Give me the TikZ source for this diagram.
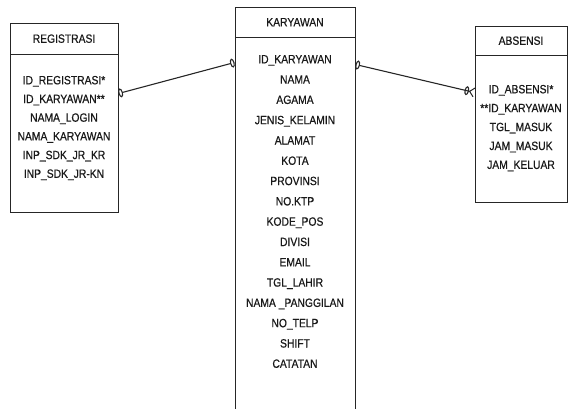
\documentclass[tikz,border=0pt]{standalone}
\usepackage{fontspec}
\setmainfont{Liberation Sans}
\newfontfamily\erdfont{Liberation Sans}[FakeStretch=0.86, RawFeature={embolden=0.6}]
\usetikzlibrary{arrows.meta}

\begin{document}
\begin{tikzpicture}[x=1pt,y=-1pt,
  box/.style={draw=black!85, line width=1pt, inner sep=0pt, font=\erdfont\fontsize{12}{13}\selectfont,
    text=black!90, text height=8.6pt, text depth=0pt},
  attr/.style={inner sep=0pt, font=\erdfont\fontsize{12}{13}\selectfont, text=black!90,
    text height=8.6pt, text depth=0pt},
  rel/.style={draw=black!85, line width=1.1pt},
  onebar/.tip={Circle[open,length=4.5pt,width=9pt,line width=1.1pt]},
  manybar/.tip={Circle[open,length=4.5pt,width=9pt,line width=1.1pt] Straight Barb[reversed,length=4.5pt,width=9pt,line width=1pt]}
]
\useasboundingbox (0,0) rectangle (569,408);

% REGISTRASI
\node[box, minimum width=108pt, minimum height=31pt] (reg) at (64,38.5) {REGISTRASI};
\node[box, minimum width=108pt, minimum height=158pt] (regbody) at (64,133) {};
\foreach \t [count=\i from 0] in {ID\_REGISTRASI*, ID\_KARYAWAN**, NAMA\_LOGIN,
    NAMA\_KARYAWAN, INP\_SDK\_JR\_KR, INP\_SDK\_JR-KN}
  \node[attr] (reg-\i) at (64,80+18.7*\i) {\t};

% KARYAWAN
\node[box, minimum width=120pt, minimum height=30pt] (kar) at (295,22) {KARYAWAN};
\node[box, minimum width=120pt, minimum height=375pt] (karbody) at (295,224.5) {};
\foreach \t [count=\i from 0] in {ID\_KARYAWAN, NAMA, AGAMA, JENIS\_KELAMIN, ALAMAT,
    KOTA, PROVINSI, NO.KTP, KODE\_POS, DIVISI, EMAIL, TGL\_LAHIR,
    NAMA \_PANGGILAN, NO\_TELP, SHIFT, CATATAN}
  \node[attr] (kar-\i) at (295,59+20.3*\i) {\t};

% ABSENSI
\node[box, minimum width=92pt, minimum height=29pt] (abs) at (521,40.5) {ABSENSI};
\node[box, minimum width=92pt, minimum height=147pt] (absbody) at (521,128.5) {};
\foreach \t [count=\i from 0] in {ID\_ABSENSI*, **ID\_KARYAWAN, TGL\_MASUK,
    JAM\_MASUK, JAM\_KELUAR}
  \node[attr] (abs-\i) at (521,89+18.9*\i) {\t};

% relasi
\path[rel]
  ([yshift=-40pt]regbody.north east) edge[onebar-onebar] ([yshift=-26pt]karbody.north west)
  ([yshift=-28pt]karbody.north east) edge[onebar-manybar] ([yshift=-38pt]absbody.north west)
;
\end{tikzpicture}
\end{document}
